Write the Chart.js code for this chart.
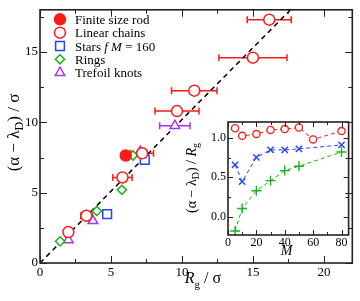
<!DOCTYPE html>
<html>
<head>
<meta charset="utf-8">
<script src="https://cdn.jsdelivr.net/npm/chart.js@4"></script>
<style>
  body { margin: 0; background: #fff; }
  #wrap { position: relative; width: 360px; height: 301px; }
  #main { position: absolute; left: 0; top: 0; }
  #inset { position: absolute; left: 175px; top: 112px; }
</style>
</head>
<body>
<div id="wrap">
  <canvas id="main" width="360" height="301"></canvas>
  <canvas id="inset" width="180" height="150"></canvas>
</div>
<script>
const SERIF = "'Liberation Serif', 'Times New Roman', serif";

// main plot: (alpha - lambda_D)/sigma against Rg/sigma
const rodX = [6.04];
const rodY = [7.64];
const chainX = [2.0, 3.27, 5.81, 7.2, 9.65, 10.87, 15.0, 16.15];
const chainY = [2.2, 3.36, 6.08, 7.8, 10.8, 12.25, 14.6, 17.3];
const chainErr = [0, 0.4, 0.68, 0.8, 1.55, 1.6, 2.4, 1.55];
const starX = [4.73, 7.38];
const starY = [3.47, 7.34];
const ringX = [1.42, 4.0, 5.77, 6.55];
const ringY = [1.54, 3.7, 5.2, 7.64];
const knotX = [2.0, 3.73, 7.08, 9.5];
const knotY = [1.64, 3.0, 7.92, 9.76];
const knotErr = [0, 0, 0, 1.07];
const fitX = [0, 22];
const fitY = [0, 22.44];
const xTicks = [0, 5, 10, 15, 20];
const yTicks = [0, 5, 10, 15];

// inset: (alpha - lambda_D)/Rg against M
const mRed = [5, 10, 20, 30, 40, 50, 60, 80];
const insetRed = [1.12, 1.025, 1.047, 1.10, 1.11, 1.13, 0.98, 1.085];
const mOther = [5, 10, 20, 30, 40, 50, 80];
const insetBlue = [0.657, 0.446, 0.753, 0.847, 0.847, 0.86, 0.91];
const insetGreen = [-0.18, 0.106, 0.33, 0.458, 0.585, 0.64, 0.82];
const mTicks = [0, 20, 40, 60, 80];
const rTicks = [0, 0.5, 1.0];

const RED = '#ff1a1a', BLUE = '#2244ff', GREEN = '#19b419', VIOLET = '#a437ee';

const pts = (xs, ys) => xs.map((x, i) => ({x: x, y: ys[i]}));

// draw a run of text pieces (different fonts / offsets) centred on x
function rich(ctx, parts, x, y) {
  let w = 0;
  parts.forEach(p => { ctx.font = p.font; w += ctx.measureText(p.t).width; });
  let cx = x - w / 2;
  ctx.textAlign = 'left';
  ctx.textBaseline = 'alphabetic';
  parts.forEach(p => {
    ctx.font = p.font;
    ctx.fillText(p.t, cx, y + (p.dy || 0));
    cx += ctx.measureText(p.t).width;
  });
}

// frame on all four sides with inward major and minor ticks
const frameTicks = {
  id: 'frameTicks',
  afterDraw(chart, args, o) {
    const {ctx, chartArea: a, scales} = chart;
    const x = scales.x, y = scales.y;
    ctx.save();
    ctx.strokeStyle = '#222';
    ctx.lineWidth = o.frame;
    ctx.strokeRect(a.left, a.top, a.right - a.left, a.bottom - a.top);
    ctx.lineWidth = 1;
    const halves = (vals) => {
      const step = vals[1] - vals[0];
      return vals.map(v => v + step / 2).concat([vals[0] - step / 2]);
    };
    const xm = o.xMajor, ym = o.yMajor;
    const drawX = (vals, len) => vals.forEach(v => {
      if (v < x.min || v > x.max) return;
      const px = Math.round(x.getPixelForValue(v)) + 0.5;
      ctx.beginPath();
      ctx.moveTo(px, a.bottom); ctx.lineTo(px, a.bottom - len);
      ctx.moveTo(px, a.top); ctx.lineTo(px, a.top + len);
      ctx.stroke();
    });
    const drawY = (vals, len) => vals.forEach(v => {
      if (v < y.min || v > y.max) return;
      const py = Math.round(y.getPixelForValue(v)) + 0.5;
      ctx.beginPath();
      ctx.moveTo(a.left, py); ctx.lineTo(a.left + len, py);
      ctx.moveTo(a.right, py); ctx.lineTo(a.right - len, py);
      ctx.stroke();
    });
    drawX(xm, o.major); drawX(halves(xm), o.minor);
    drawY(ym, o.major); drawY(halves(ym), o.minor);
    ctx.restore();
  }
};

// horizontal error bars, under the markers
const errorBars = {
  id: 'errorBars',
  beforeDatasetsDraw(chart) {
    const {ctx, scales: {x, y}} = chart;
    chart.data.datasets.forEach(ds => {
      if (!ds.xErr) return;
      ctx.save();
      ctx.strokeStyle = ds.borderColor;
      ctx.lineWidth = 1.5;
      ds.data.forEach((p, i) => {
        const e = ds.xErr[i];
        if (!e) return;
        const x0 = x.getPixelForValue(p.x - e), x1 = x.getPixelForValue(p.x + e);
        const py = y.getPixelForValue(p.y);
        ctx.beginPath();
        ctx.moveTo(x0, py); ctx.lineTo(x1, py);
        ctx.moveTo(x0, py - 3.5); ctx.lineTo(x0, py + 3.5);
        ctx.moveTo(x1, py - 3.5); ctx.lineTo(x1, py + 3.5);
        ctx.stroke();
      });
      ctx.restore();
    });
  }
};

// legend inside the plot and the axis titles
const mainText = {
  id: 'mainText',
  afterDraw(chart) {
    const ctx = chart.ctx;
    ctx.save();
    ctx.fillStyle = '#000';
    const rows = [19.3, 32.7, 46, 59.3, 72.7];
    const labels = [
      [{t: 'Finite size rod'}],
      [{t: 'Linear chains'}],
      [{t: 'Stars '}, {t: 'f', it: true}, {t: ' '}, {t: 'M', it: true}, {t: ' = 160'}],
      [{t: 'Rings'}],
      [{t: 'Trefoil knots'}]
    ];
    const ds = chart.data.datasets;
    rows.forEach((ry, i) => {
      const d = ds[i];
      ctx.save();
      ctx.fillStyle = d.backgroundColor;
      ctx.strokeStyle = d.borderColor;
      ctx.lineWidth = d.borderWidth;
      Chart.helpers.drawPoint(ctx, {pointStyle: d.pointStyle, radius: d.pointRadius,
        borderWidth: d.borderWidth, rotation: 0}, 60, ry);
      ctx.restore();
      let tx = 75;
      ctx.textAlign = 'left';
      ctx.textBaseline = 'alphabetic';
      labels[i].forEach(p => {
        ctx.font = (p.it ? 'italic ' : '') + '13px ' + SERIF;
        ctx.fillText(p.t, tx, ry + 4.5);
        tx += ctx.measureText(p.t).width;
      });
    });
    // x title
    rich(ctx, [
      {t: 'R', font: 'italic 16px ' + SERIF},
      {t: 'g', font: '11px ' + SERIF, dy: 5},
      {t: ' / σ', font: '16px ' + SERIF}
    ], 203, 283);
    // y title
    ctx.translate(19, 132.5);
    ctx.rotate(-Math.PI / 2);
    rich(ctx, [
      {t: '(α − λ', font: '17px ' + SERIF},
      {t: 'D', font: '12px ' + SERIF, dy: 4},
      {t: ') / σ', font: '17px ' + SERIF}
    ], 0, 0);
    ctx.restore();
  }
};

const insetText = {
  id: 'insetText',
  afterDraw(chart) {
    const ctx = chart.ctx;
    ctx.save();
    ctx.fillStyle = '#000';
    rich(ctx, [{t: 'M', font: 'italic 14px ' + SERIF}], 111.7, 143);
    ctx.translate(21, 66);
    ctx.rotate(-Math.PI / 2);
    rich(ctx, [
      {t: '(α − λ', font: '14px ' + SERIF},
      {t: 'D', font: '10px ' + SERIF, dy: 3},
      {t: ') / ', font: '14px ' + SERIF},
      {t: 'R', font: 'italic 14px ' + SERIF},
      {t: 'g', font: '10px ' + SERIF, dy: 3}
    ], 0, 0);
    ctx.restore();
  }
};

const tickFont = (size) => ({family: SERIF, size: size});

new Chart(document.getElementById('main'), {
  type: 'scatter',
  data: {
    datasets: [
      {data: pts(rodX, rodY), pointStyle: 'circle', pointRadius: 5.5,
        backgroundColor: RED, borderColor: RED, borderWidth: 1.5},
      {data: pts(chainX, chainY), xErr: chainErr, pointStyle: 'circle', pointRadius: 5.5,
        backgroundColor: '#fff', borderColor: RED, borderWidth: 1.5},
      {data: pts(starX, starY), pointStyle: 'rect', pointRadius: 6.2,
        backgroundColor: '#fff', borderColor: BLUE, borderWidth: 1.5},
      {data: pts(ringX, ringY), pointStyle: 'rectRot', pointRadius: 4.6,
        backgroundColor: '#fff', borderColor: GREEN, borderWidth: 1.5},
      {data: pts(knotX, knotY), xErr: knotErr, pointStyle: 'triangle', pointRadius: 5.5,
        backgroundColor: '#fff', borderColor: VIOLET, borderWidth: 1.5},
      {data: pts(fitX, fitY), showLine: true, pointRadius: 0, borderColor: '#000',
        borderWidth: 1.5, borderDash: [5, 4], order: 10}
    ]
  },
  options: {
    responsive: false,
    animation: false,
    events: [],
    layout: {padding: {top: 2, right: 2, left: 0, bottom: 0}},
    plugins: {
      legend: {display: false},
      tooltip: {enabled: false},
      frameTicks: {frame: 1.6, major: 7, minor: 4, xMajor: xTicks, yMajor: yTicks}
    },
    scales: {
      x: {
        type: 'linear', min: 0, max: 22,
        afterBuildTicks: s => { s.ticks = xTicks.map(v => ({value: v})); },
        afterFit: s => { s.height = 38; },
        grid: {display: false, drawTicks: false},
        border: {display: false},
        ticks: {font: tickFont(13), color: '#000', padding: 2, maxRotation: 0}
      },
      y: {
        type: 'linear', min: 0, max: 18,
        afterBuildTicks: s => { s.ticks = yTicks.map(v => ({value: v})); },
        afterFit: s => { s.width = 40; },
        grid: {display: false, drawTicks: false},
        border: {display: false},
        ticks: {font: tickFont(13), color: '#000', padding: 2}
      }
    }
  },
  plugins: [errorBars, frameTicks, mainText]
});

new Chart(document.getElementById('inset'), {
  type: 'scatter',
  data: {
    datasets: [
      {data: pts(mRed, insetRed), showLine: true, borderDash: [4, 3], borderWidth: 1,
        borderColor: RED, pointStyle: 'circle', pointRadius: 3.6,
        pointBackgroundColor: '#fff', pointBorderColor: RED, pointBorderWidth: 1.3},
      {data: pts(mOther, insetBlue), showLine: true, borderDash: [4, 3], borderWidth: 1,
        borderColor: BLUE, pointStyle: 'crossRot', pointRadius: 4.5,
        pointBorderColor: BLUE, pointBorderWidth: 1.4},
      {data: pts(mOther, insetGreen), showLine: true, borderDash: [4, 3], borderWidth: 1,
        borderColor: GREEN, pointStyle: 'cross', pointRadius: 5,
        pointBorderColor: GREEN, pointBorderWidth: 1.4}
    ]
  },
  options: {
    responsive: false,
    animation: false,
    events: [],
    layout: {padding: {top: 10, right: 5, left: 0, bottom: 0}},
    plugins: {
      legend: {display: false},
      tooltip: {enabled: false},
      frameTicks: {frame: 1.6, major: 5, minor: 3, xMajor: mTicks, yMajor: rTicks}
    },
    scales: {
      x: {
        type: 'linear', min: 0, max: 85,
        afterBuildTicks: s => { s.ticks = mTicks.map(v => ({value: v})); },
        afterFit: s => { s.height = 27; },
        grid: {display: false, drawTicks: false},
        border: {display: false},
        ticks: {font: tickFont(12), color: '#000', padding: 1, maxRotation: 0}
      },
      y: {
        type: 'linear', min: -0.23, max: 1.2,
        afterBuildTicks: s => { s.ticks = rTicks.map(v => ({value: v})); },
        afterFit: s => { s.width = 53; },
        grid: {display: false, drawTicks: false},
        border: {display: false},
        ticks: {font: tickFont(12), color: '#000', padding: 2, callback: v => v.toFixed(1)}
      }
    }
  },
  plugins: [frameTicks, insetText]
});
</script>
</body>
</html>
